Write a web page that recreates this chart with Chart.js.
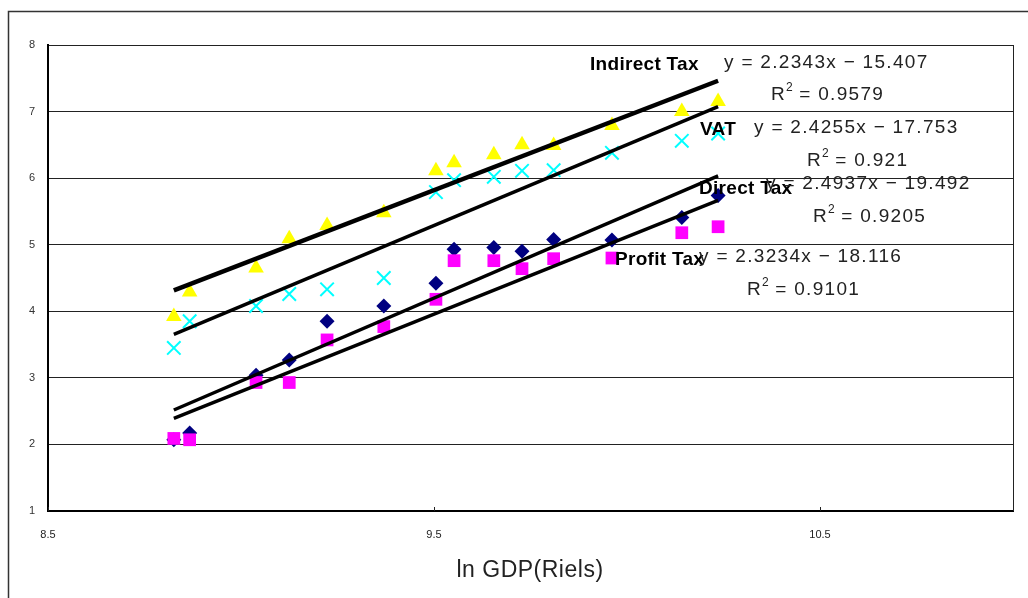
<!DOCTYPE html>
<html>
<head>
<meta charset="utf-8">
<script src="https://cdn.jsdelivr.net/npm/chart.js@4.4.0/dist/chart.umd.min.js"></script>
<style>
  body { margin: 0; background: #fff; }
  #wrap { width: 1028px; height: 598px; }
</style>
</head>
<body>
<div id="wrap"><canvas id="taxChart" width="1028" height="598"></canvas></div>
<script>
// ln GDP on x, ln tax revenue on y
const lnGdp = [8.826, 8.867, 9.039, 9.125, 9.223, 9.370, 9.505, 9.552, 9.655, 9.728, 9.810, 9.961, 10.142, 10.236];
const indirectTax = [3.92, 4.29, 4.65, 5.09, 5.29, 5.48, 6.11, 6.23, 6.35, 6.50, 6.49, 6.79, 7.00, 7.15];
const vat = [3.45, 3.85, 4.08, 4.26, 4.33, 4.50, 5.79, 5.97, 6.02, 6.11, 6.12, 6.38, 6.56, 6.67];
const directTax = [2.07, 2.17, 3.04, 3.27, 3.85, 4.08, 4.42, 4.93, 4.96, 4.90, 5.08, 5.07, 5.41, 5.74];
const profitTax = [2.09, 2.07, 2.93, 2.93, 3.57, 3.77, 4.18, 4.76, 4.76, 4.64, 4.79, 4.80, 5.18, 5.27];

const seriesNames = ["Indirect Tax", "VAT", "Direct Tax", "Profit Tax"];
const slopes = [2.2343, 2.4255, 2.4937, 2.3234];
const intercepts = [-15.407, -17.753, -19.492, -18.116];
const rSquared = ["0.9579", "0.921", "0.9205", "0.9101"];

const xTicks = [8.5, 9.5, 10.5];
const yTicks = [1, 2, 3, 4, 5, 6, 7, 8];

function points(ys) {
  return lnGdp.map(function (x, i) { return { x: x, y: ys[i] }; });
}

const xMin = Math.min.apply(null, lnGdp);
const xMax = Math.max.apply(null, lnGdp);

function trend(i) {
  return [
    { x: xMin, y: slopes[i] * xMin + intercepts[i] },
    { x: xMax, y: slopes[i] * xMax + intercepts[i] },
  ];
}

function eqText(i) {
  return "y = " + slopes[i] + "x \u2212 " + Math.abs(intercepts[i]).toFixed(3);
}

// where the labels of each fit sit (px): name, equation, R2
const labelPos = [
  { name: [590, 70], eq: [724, 68], r2: [771, 100] },
  { name: [700, 135], eq: [754, 133], r2: [807, 166] },
  { name: [699, 194], eq: [766, 189], r2: [813, 222] },
  { name: [615, 265], eq: [699, 262], r2: [747, 295] },
];

const trendLine = function (i, width) {
  return {
    type: "line",
    data: trend(i),
    borderColor: "#000",
    borderWidth: width,
    pointRadius: 0,
    fill: false,
  };
};

const decor = {
  id: "decor",
  afterDraw(chart) {
    const ctx = chart.ctx;
    const a = chart.chartArea;
    const xs = chart.scales.x;
    ctx.save();

    // outer frame
    ctx.strokeStyle = "#333";
    ctx.lineWidth = 1.5;
    ctx.beginPath();
    ctx.moveTo(8.5, 598);
    ctx.lineTo(8.5, 11.5);
    ctx.lineTo(1028, 11.5);
    ctx.stroke();

    // right edge of plot
    ctx.strokeStyle = "#222";
    ctx.lineWidth = 1;
    ctx.beginPath();
    ctx.moveTo(Math.round(a.right) + 0.5, a.top);
    ctx.lineTo(Math.round(a.right) + 0.5, a.bottom);
    ctx.stroke();

    // small inside ticks on x axis
    xTicks.forEach(function (v) {
      const px = Math.round(xs.getPixelForValue(v)) + 0.5;
      ctx.beginPath();
      ctx.moveTo(px, a.bottom);
      ctx.lineTo(px, a.bottom - 4);
      ctx.stroke();
    });

    // fit labels
    ctx.fillStyle = "#000";
    ctx.textBaseline = "alphabetic";
    ctx.textAlign = "left";
    labelPos.forEach(function (p, i) {
      ctx.letterSpacing = "0.3px";
      ctx.font = "bold 19px 'Liberation Sans', Arial, sans-serif";
      ctx.fillText(seriesNames[i], p.name[0], p.name[1]);
    });
    ctx.fillStyle = "#222";
    labelPos.forEach(function (p, i) {
      ctx.font = "19px 'Liberation Sans', Arial, sans-serif";
      ctx.letterSpacing = "1.3px";
      ctx.fillText(eqText(i), p.eq[0], p.eq[1]);
      let x = p.r2[0];
      ctx.fillText("R", x, p.r2[1]);
      x += ctx.measureText("R").width;
      ctx.font = "12px 'Liberation Sans', Arial, sans-serif";
      ctx.letterSpacing = "0px";
      ctx.fillText("2", x, p.r2[1] - 9);
      x += ctx.measureText("2").width;
      ctx.font = "19px 'Liberation Sans', Arial, sans-serif";
      ctx.letterSpacing = "1.3px";
      ctx.fillText(" = " + rSquared[i], x, p.r2[1]);
    });

    // x axis title
    ctx.font = "23px 'Liberation Sans', Arial, sans-serif";
    ctx.letterSpacing = "0.5px";
    ctx.textAlign = "center";
    ctx.fillText("ln GDP(Riels)", 530, 577);
    ctx.restore();
  },
};

new Chart(document.getElementById("taxChart"), {
  type: "scatter",
  data: {
    datasets: [
      trendLine(0, 4.5),
      trendLine(1, 3.5),
      trendLine(2, 3.5),
      trendLine(3, 3.5),
      {
        label: "Profit Tax",
        data: points(profitTax),
        pointStyle: "rect",
        pointRadius: 9,
        backgroundColor: "#ff00ff",
        borderColor: "#ff00ff",
        borderWidth: 0,
      },
      {
        label: "Direct Tax",
        data: points(directTax),
        pointStyle: "rectRot",
        pointRadius: 7.5,
        backgroundColor: "#000080",
        borderColor: "#000080",
        borderWidth: 0,
      },
      {
        label: "VAT",
        data: points(vat),
        pointStyle: "crossRot",
        pointRadius: 9.5,
        borderColor: "#00ffff",
        borderWidth: 2,
      },
      {
        label: "Indirect Tax",
        data: points(indirectTax),
        pointStyle: "triangle",
        pointRadius: 9,
        backgroundColor: "#ffff00",
        borderColor: "#ffff00",
        borderWidth: 0,
      },
    ],
  },
  options: {
    responsive: false,
    animation: false,
    devicePixelRatio: 1,
    layout: { padding: { top: 45, right: 15, left: 0, bottom: 0 } },
    plugins: {
      legend: { display: false },
      tooltip: { enabled: false },
    },
    scales: {
      x: {
        type: "linear",
        min: 8.5,
        max: 11,
        afterBuildTicks: function (s) { s.ticks = xTicks.map(function (v) { return { value: v }; }); },
        afterFit: function (s) { s.height = 87; },
        grid: { display: false, drawTicks: false },
        border: { display: true, color: "#000", width: 2 },
        ticks: {
          padding: 17,
          color: "#222",
          font: { family: "'Liberation Sans', Arial, sans-serif", size: 11 },
          callback: function (v) { return String(v); },
        },
      },
      y: {
        type: "linear",
        min: 1,
        max: 8,
        afterBuildTicks: function (s) { s.ticks = yTicks.map(function (v) { return { value: v }; }); },
        afterFit: function (s) { s.width = 48; },
        grid: { color: "#222", lineWidth: 1, drawTicks: false },
        border: { display: true, color: "#000", width: 2 },
        ticks: {
          padding: 13,
          color: "#333",
          font: { family: "'Liberation Sans', Arial, sans-serif", size: 11 },
        },
      },
    },
  },
  plugins: [decor],
});
</script>
</body>
</html>
